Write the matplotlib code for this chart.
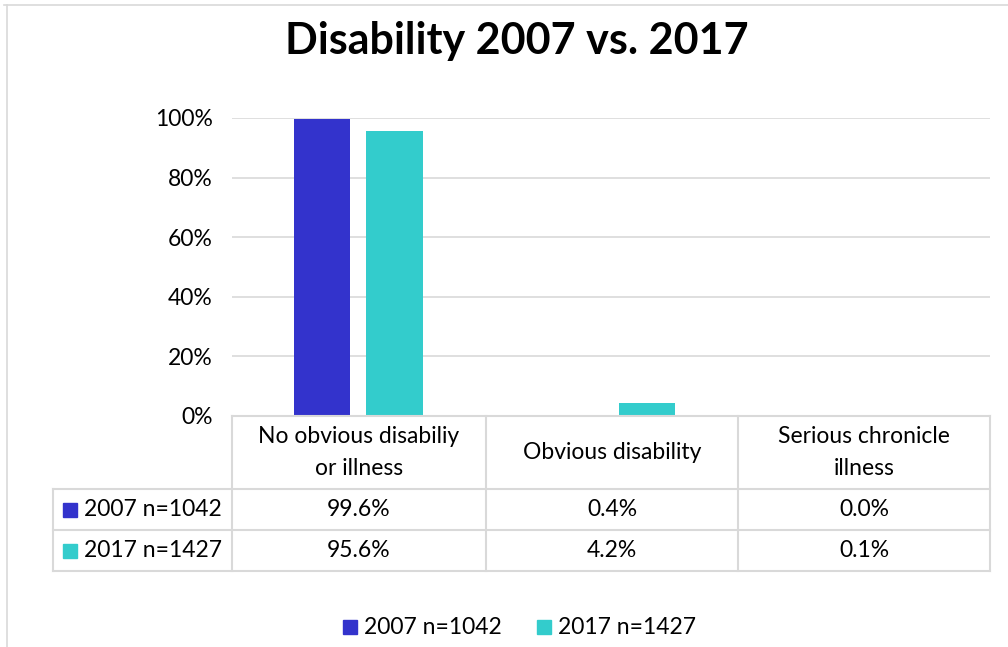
import matplotlib
matplotlib.use("Agg")
import matplotlib.pyplot as plt
from matplotlib.lines import Line2D
from matplotlib.patches import Rectangle
import numpy as np

categories = ["No obvious disabiliy\nor illness", "Obvious disability", "Serious chronicle\nillness"]
series_names = ["2007 n=1042", "2017 n=1427"]
values_2007 = [99.6, 0.4, 0.0]
values_2017 = [95.6, 4.2, 0.1]
colors = ["#3333CC", "#33CCCC"]
yticks = [0, 20, 40, 60, 80, 100]
title = "Disability 2007 vs. 2017"

plt.rcParams['font.family'] = ['Lato', 'DejaVu Sans']

W, H = 1008, 647
fig = plt.figure(figsize=(W / 100, H / 100), dpi=100)

def fx(x):
    return x / W

def fy(y):
    return 1 - y / H

grid_c = "#d9d9d9"

# outer frame
fig.add_artist(Line2D([fx(4), fx(1008)], [fy(5), fy(5)], color=grid_c, lw=1.2))
fig.add_artist(Line2D([fx(7), fx(7)], [fy(5), fy(647)], color=grid_c, lw=1.2))

left, right, top, bottom = 232, 990, 118, 416
ax = fig.add_axes([fx(left), fy(bottom), fx(right) - fx(left), fy(top) - fy(bottom)])
x = np.arange(len(categories))
bw = 0.222
off = 0.143
ax.bar(x - off, values_2007, width=bw, color=colors[0], zorder=3)
ax.bar(x + off, values_2017, width=bw, color=colors[1], zorder=3)
ax.set_xlim(-0.5, len(categories) - 0.5)
ax.set_ylim(0, 100)
ax.set_yticks(yticks)
fs = 16.5
ax.set_yticklabels([f"{t}%" for t in yticks], fontsize=fs)
ax.tick_params(axis='y', length=0, pad=14)
ax.set_xticks([])
ax.grid(axis='y', color=grid_c, lw=1.2, zorder=0)
for s in ax.spines.values():
    s.set_visible(False)

fig.suptitle(title, x=fx(517), y=fy(41), va='center', fontsize=31, fontweight='bold')

# data table
col_edges = [232, 486, 738, 990]
row_lines = [416, 489, 530, 571]
lw = 1.5
fig.add_artist(Line2D([fx(232), fx(990)], [fy(416), fy(416)], color=grid_c, lw=lw))
for yl in row_lines[1:]:
    fig.add_artist(Line2D([fx(53), fx(990)], [fy(yl), fy(yl)], color=grid_c, lw=lw))
fig.add_artist(Line2D([fx(53), fx(53)], [fy(489), fy(571)], color=grid_c, lw=lw))
for xe in col_edges:
    fig.add_artist(Line2D([fx(xe), fx(xe)], [fy(416), fy(571)], color=grid_c, lw=lw))

for i, cat in enumerate(categories):
    cx = (col_edges[i] + col_edges[i + 1]) / 2
    fig.text(fx(cx), fy((416 + 489) / 2), cat, ha='center', va='center', fontsize=fs,
             linespacing=1.6)
    fig.text(fx(cx), fy((489 + 530) / 2), f"{values_2007[i]:.1f}%", ha='center', va='center', fontsize=fs)
    fig.text(fx(cx), fy((530 + 571) / 2), f"{values_2017[i]:.1f}%", ha='center', va='center', fontsize=fs)

for j, (name, c) in enumerate(zip(series_names, colors)):
    yc = (row_lines[j + 1] + row_lines[j + 2]) / 2
    fig.add_artist(Rectangle((fx(63), fy(yc + 7)), fx(14), 14 / H, color=c))
    fig.text(fx(84), fy(yc), name, ha='left', va='center', fontsize=fs)

# legend
leg_items = [(343, series_names[0], colors[0]), (537, series_names[1], colors[1])]
for lx, name, c in leg_items:
    fig.add_artist(Rectangle((fx(lx), fy(634)), fx(14), 14 / H, color=c))
    fig.text(fx(lx + 21), fy(627), name, ha='left', va='center', fontsize=fs)

fig.savefig("out.png", dpi=100)
